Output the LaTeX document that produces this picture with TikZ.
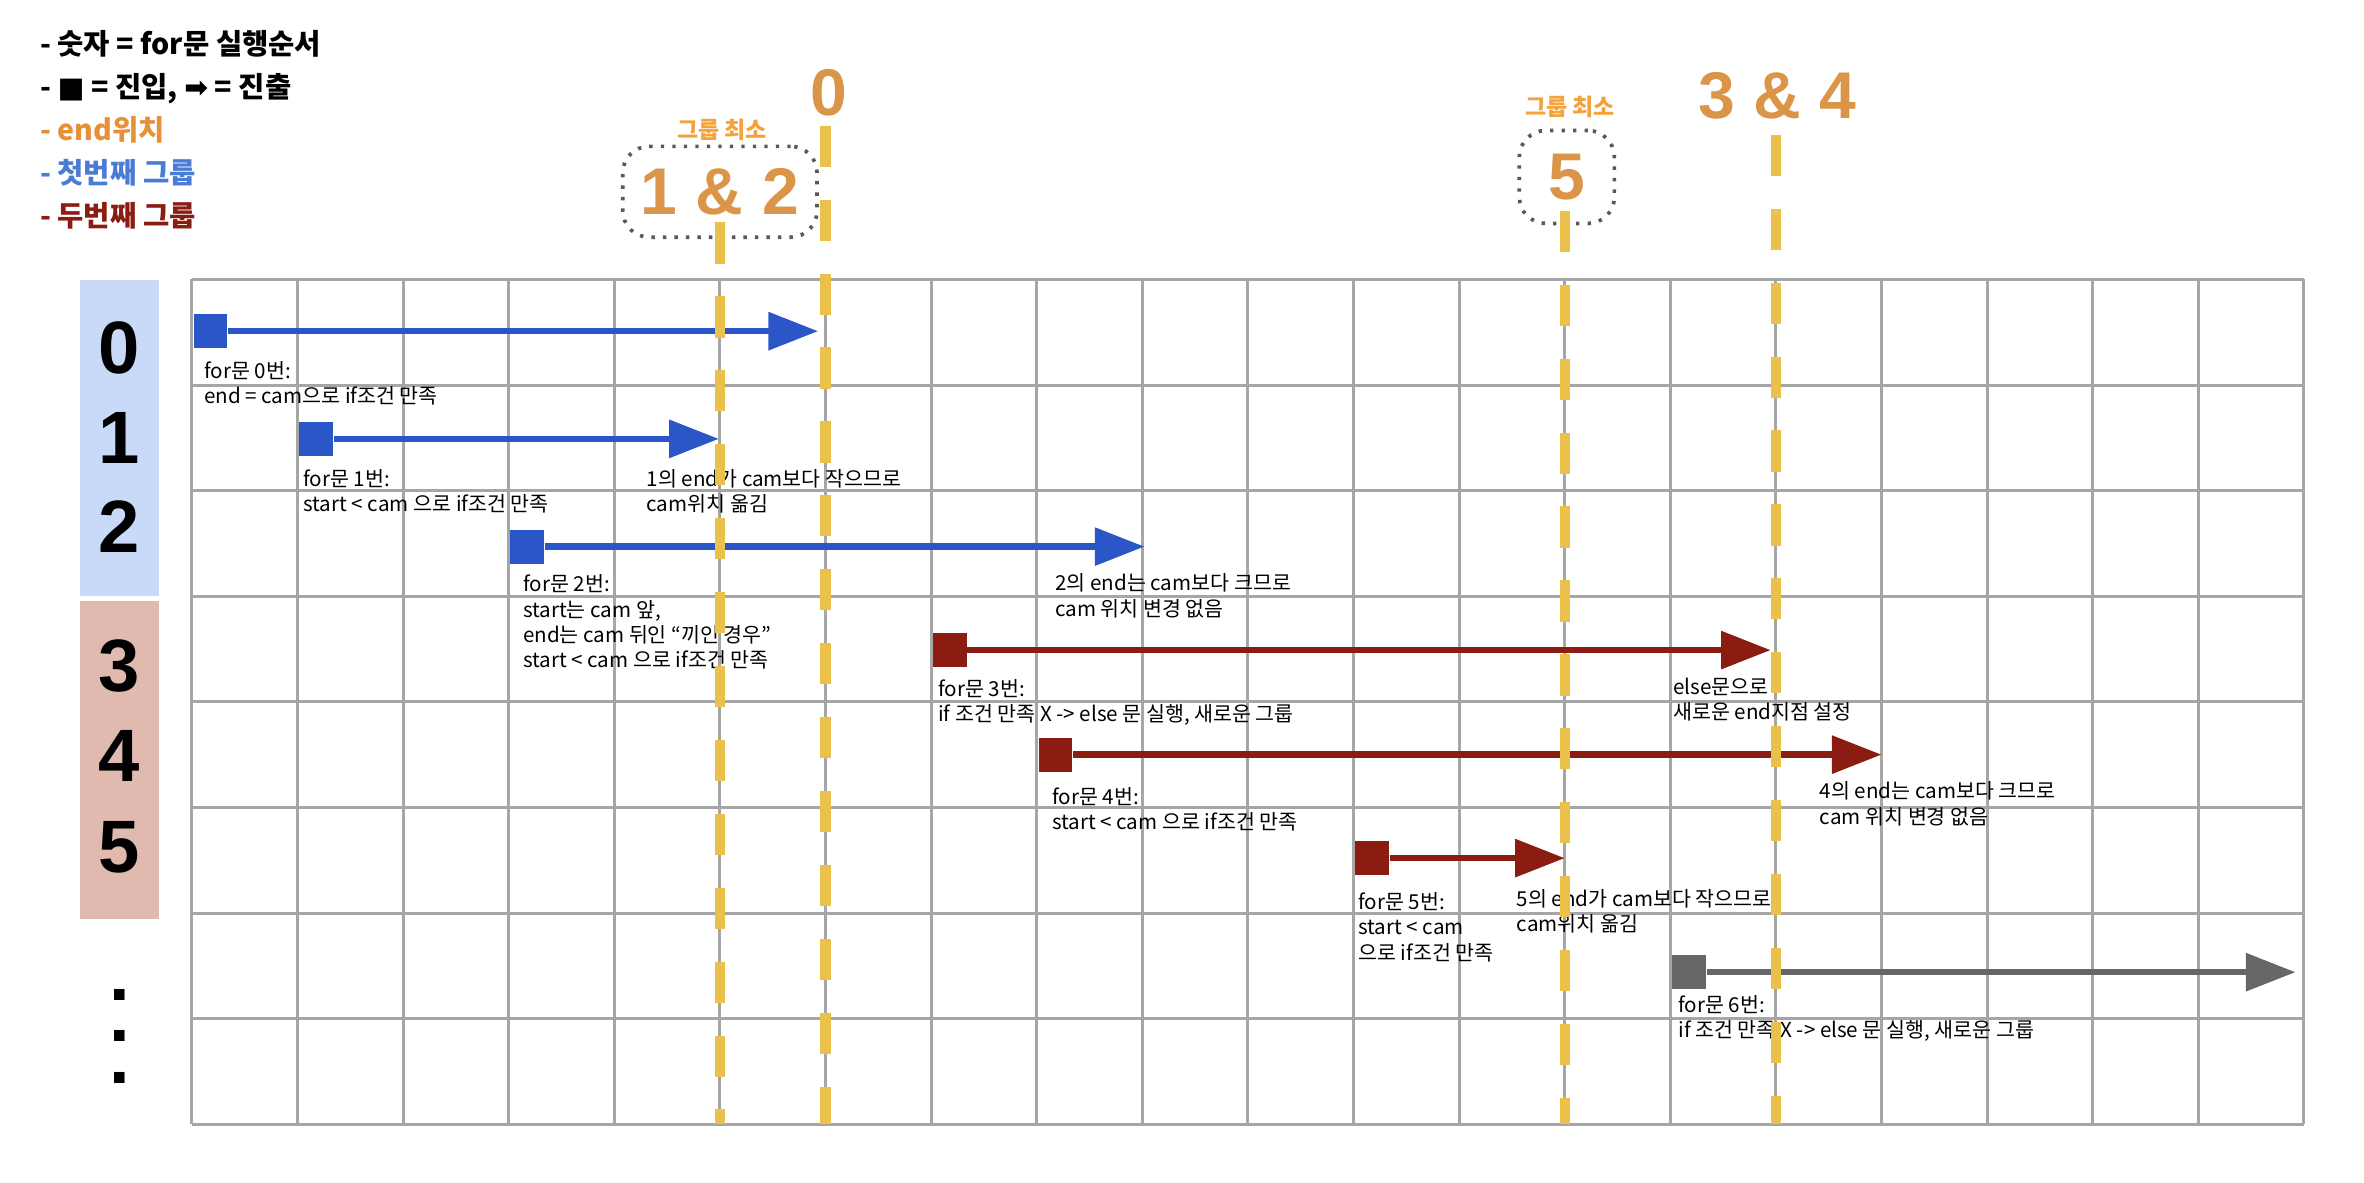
\documentclass[tikz,border=0pt]{standalone}
\usepackage{fontspec}
\setmainfont{Noto Sans CJK KR}
\newfontfamily\arialfont{Liberation Sans}
\newfontfamily\symfont{DejaVu Sans}
\usepackage{xcolor}
\definecolor{gridgray}{HTML}{A6A6A6}
\definecolor{endyellow}{HTML}{EAC24B}
\definecolor{endorange}{HTML}{DA9548}
\definecolor{minorange}{HTML}{F3A23C}
\definecolor{grpblue}{HTML}{2B56C7}
\definecolor{grpred}{HTML}{8B1C12}
\definecolor{grpgray}{HTML}{666666}
\definecolor{legblue}{HTML}{4A7CD6}
\definecolor{legorange}{HTML}{E69138}
\definecolor{bluebg}{HTML}{C9DAF8}
\definecolor{redbg}{HTML}{E0B9AF}
\usetikzlibrary{arrows.meta,positioning}

\begin{document}
\begin{tikzpicture}[
  cellgrid/.style={draw=gridgray, line width=0.8pt},
  endline/.style={draw=endyellow, line width=2.7pt, dash pattern=on 3.9mm off 3.1mm},
  entry/.style={rectangle, fill=#1, minimum size=3.2mm, inner sep=0pt, anchor=west},
  exitline/.style={draw=#1, line width=1.7pt, -{Triangle[length=4.7mm,width=3.5mm]}},
  note/.style={anchor=north west, inner sep=0pt, align=left,
               font=\fontsize{5.55}{6.8}\selectfont},
  rowno/.style={font=\arialfont\bfseries\fontsize{20}{24}\selectfont, inner sep=0pt},
  endno/.style={font=\arialfont\bfseries\fontsize{17.8}{20}\selectfont,
                text=endorange, inner sep=0pt},
  minbox/.style={draw=black!65, line width=1pt, dash pattern=on 0.9pt off 2.2pt,
                 rounded corners=2.5mm},
  mintag/.style={font=\bfseries\fontsize{6.2}{7}\selectfont, text=minorange, inner sep=0pt},
  band/.style={fill=#1, minimum width=7.4mm, inner sep=0pt, anchor=north}
]
\useasboundingbox (-1.817,2.646) rectangle (20.569,-8.549);

%% legend
\node[anchor=north west, inner sep=0pt, align=left,
      font=\bfseries\fontsize{7.7}{11.6}\selectfont] (legend) at (-1.444,2.37)
  {- 숫자 = for문 실행순서\\
   - {\symfont ■} = 진입, {\symfont ➡} = 진출\\
   \textcolor{legorange}{- end위치}\\
   \textcolor{legblue}{- 첫번째 그룹}\\
   \textcolor{grpred}{- 두번째 그룹}};

%% row numbers
\node[band=bluebg, minimum height=29.9mm] (blueband) at (-0.686,0) {};
\node[band=redbg, minimum height=30.1mm] (redband) at (-0.686,-3.04) {};
\foreach \i/\y in {0/-0.645,1/-1.505,2/-2.337,3/-3.656,4/-4.516,5/-5.376}
  \node[rowno] (row\i) at (-0.686,\y) {\i};
\node[rowno, align=center, font=\arialfont\bfseries\fontsize{20}{11.2}\selectfont]
  (more) at (-0.686,-7.165) {.\\.\\.};

%% grid
\draw[cellgrid] (0,-8) grid (20,0);

%% for loops
\foreach \n/\x/\y/\t/\c in {0/0/-0.49/5.93/grpblue, 1/1/-1.51/4.99/grpblue,
    2/3/-2.53/9.02/grpblue, 3/7/-3.51/14.95/grpred, 4/8/-4.50/16/grpred,
    5/11/-5.48/13/grpred, 6/14/-6.56/19.92/grpgray}{
  \node[entry=\c] (s\n) at (\x+0.01,\y) {};
  \coordinate (e\n) at (\t,\y);
  \draw[exitline=\c] (s\n.east) -- (e\n);
}

\node[note] (l0) at (0.11,-0.77) {for문 0번:\\end = cam으로 if조건 만족};
\node[note] (l1) at (1.05,-1.79) {for문 1번:\\start < cam 으로 if조건 만족};
\node[note] (n1) at (4.30,-1.79) {1의 end가 cam보다 작으므로\\cam위치 옮김};
\node[note] (l2) at (3.13,-2.79)
  {for문 2번:\\start는 cam 앞,\\end는 cam 뒤인 “끼인 경우"\\start < cam 으로 if조건 만족};
\node[note] (n2) at (8.17,-2.78) {2의 end는 cam보다 크므로\\cam 위치 변경 없음};
\node[note] (l3) at (7.06,-3.78) {for문 3번:\\if 조건 만족 X -> else 문 실행, 새로운 그룹};
\node[note] (n3) at (14.02,-3.77) {else문으로\\새로운 end지점 설정};
\node[note] (l4) at (8.14,-4.80) {for문 4번:\\start < cam 으로 if조건 만족};
\node[note] (n4) at (15.41,-4.75) {4의 end는 cam보다 크므로\\cam 위치 변경 없음};
\node[note] (l5) at (11.04,-5.80) {for문 5번:\\start < cam\\으로 if조건 만족};
\node[note] (n5) at (12.54,-5.77) {5의 end가 cam보다 작으므로\\cam위치 옮김};
\node[note] (l6) at (14.07,-6.77) {for문 6번:\\if 조건 만족 X -> else 문 실행, 새로운 그룹};

%% end positions
\node[endno] (end0) at (6.03,1.77) {0};
\node[endno, minbox, minimum width=18.4mm, minimum height=8.6mm] (end12) at (5.0,0.83) {1 \& 2};
\node[endno, minbox, minimum width=9mm, minimum height=8.8mm] (end5) at (13.02,0.97) {5};
\node[endno] (end34) at (15.01,1.74) {3 \& 4};
\node[mintag] (tag12) at (5.02,1.42) {그룹 최소};
\node[mintag] (tag5) at (13.05,1.63) {그룹 최소};

\foreach \x/\top in {5/0.54, 6/1.456, 13/0.65, 15/1.37}
  \draw[endline] (\x,\top) -- (\x,-8);

\end{tikzpicture}
\end{document}
